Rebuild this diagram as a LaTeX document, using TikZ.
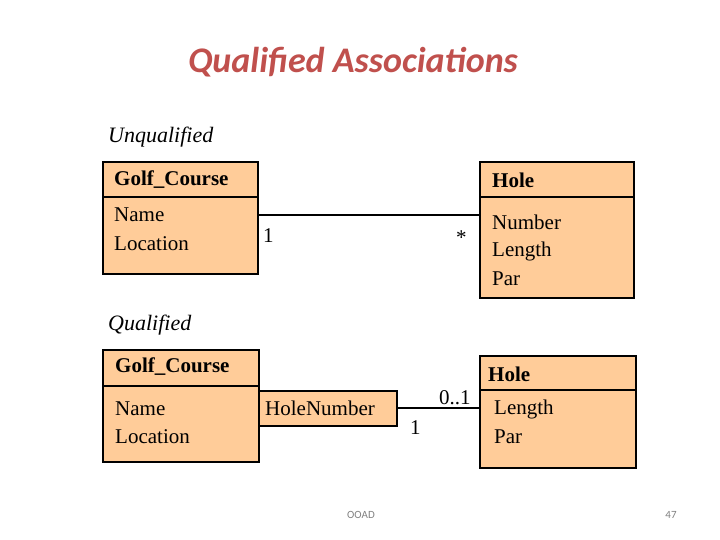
\documentclass[tikz,border=0pt]{standalone}
\usepackage{fontspec}
\setmainfont{Liberation Serif}
\newfontfamily\carl{Carlito}
\definecolor{boxfill}{HTML}{FFCC99}
\definecolor{titlered}{HTML}{C0504D}
\begin{document}
\begin{tikzpicture}[x=1pt,y=-1pt,
  cls/.style={draw=black,line width=1.2pt,fill=boxfill},
  lbl/.style={anchor=west,inner sep=0pt,font=\fontsize{21}{24}\selectfont},
  hdr/.style={anchor=west,inner sep=0pt,font=\fontsize{21}{24}\selectfont\bfseries},
  conn/.style={line width=1.2pt}]
\useasboundingbox (0,0) rectangle (720,540);
\node[font=\carl\fontsize{36}{40}\selectfont\bfseries\itshape,text=titlered] (title) at (353,62) {Qualified Associations};
\node[anchor=west,inner sep=0pt,font=\fontsize{22}{24}\selectfont\itshape] (uq) at (108,137) {Unqualified};
\node[anchor=west,inner sep=0pt,font=\fontsize{22}{24}\selectfont\itshape] (q) at (108,325) {Qualified};
% top
\draw[cls] (103,162) rectangle (258,274); \draw[cls] (103,197) -- (258,197);
\draw[cls] (480,162) rectangle (634,298); \draw[cls] (480,197) -- (634,197);
\coordinate (gcR) at (258,215); \coordinate (hL) at (480,215);
\draw[conn] (gcR) -- (hL);
\node[hdr] at (114,180) {Golf\_Course};
\node[lbl] at (114,215) {Name};
\node[lbl] at (114,244) {Location};
\node[hdr] at (492,180) {Hole};
\node[lbl] at (492,222) {Number};
\node[lbl] at (492,251) {Length};
\node[lbl] at (492,279) {Par};
\node[lbl] at (263,236) {1};
\node[lbl] at (456,238) {*};
% bottom
\draw[cls] (103,350) rectangle (259,462); \draw[cls] (103,386) -- (259,386);
\draw[cls] (259,391) rectangle (397,426);
\draw[cls] (480,356) rectangle (636,468); \draw[cls] (480,390) -- (636,390);
\coordinate (qR) at (397,408); \coordinate (h2L) at (480,408);
\draw[conn] (qR) -- (h2L);
\node[hdr] at (115,367) {Golf\_Course};
\node[lbl] at (115,409) {Name};
\node[lbl] at (115,437) {Location};
\node[lbl] at (265,408) {HoleNumber};
\node[hdr] at (488,374) {Hole};
\node[lbl] at (494,409) {Length};
\node[lbl] at (494,437) {Par};
\node[lbl] at (439,398) {0..1};
\node[lbl] at (410,428) {1};
\node[font=\carl\fontsize{11}{12}\selectfont,text=gray] at (361,515) {OOAD};
\node[font=\carl\fontsize{11}{12}\selectfont,text=gray] at (671,515) {47};
\end{tikzpicture}
\end{document}
